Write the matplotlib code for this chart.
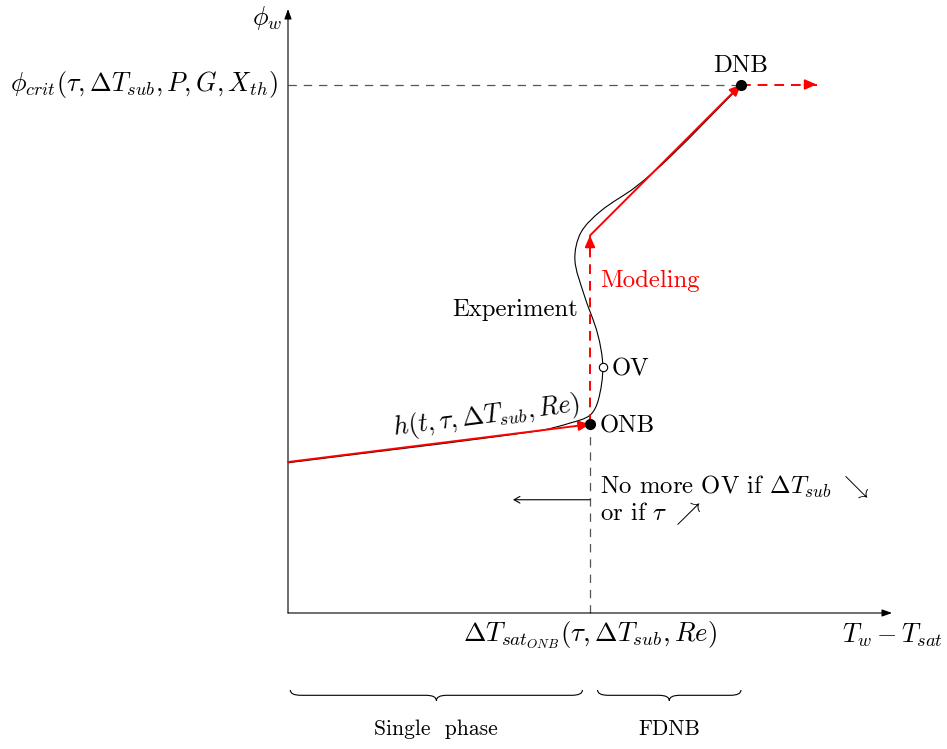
import numpy as np
import matplotlib
matplotlib.use("Agg")
import matplotlib.pyplot as plt
from matplotlib.path import Path
from matplotlib.patches import PathPatch, FancyArrowPatch

plt.rcParams["font.family"] = "serif"
plt.rcParams["font.serif"] = ["cmr10"]
plt.rcParams["mathtext.fontset"] = "cm"
plt.rcParams["axes.unicode_minus"] = False
plt.rcParams["lines.scale_dashes"] = False

# diagram units (like TikZ cm): x = T_w - T_sat, y = wall heat flux phi_w
AXIS_END = (8.0, 8.0)
ONB = (4.0, 2.5)
OV = (4.17, 3.26)
DNB = (6.0, 7.0)
PHI_CRIT = 7.0

# modelled path: single phase -> ONB, jump (dashed), FDNB -> DNB, beyond (dashed)
model_x = [0.0, 4.0, 4.0, 6.0, 7.0]
model_y = [2.0, 2.5, 5.0, 7.0, 7.0]
model_dashed = [False, True, False, True]

# experimental boiling curve (S-shape with overshoot)
exp_x = [0.0, 3.30, 3.75, 4.00, 4.11, 4.17, 4.10, 3.92, 3.80, 3.88,
         4.15, 4.60, 5.06, 6.00]
exp_y = [1.99, 2.41, 2.52, 2.62, 2.82, 3.26, 3.70, 4.22, 4.68, 5.04,
         5.33, 5.64, 6.04, 6.99]

brace_spans = [(0.03, 3.90), (4.10, 6.00)]
brace_labels = ["Single  phase", "FDNB"]

RED = "#ff0000"
GREY = "#555555"
FS = 17.8     # plain text
FM = 18.8     # math text


def smooth_path(xs, ys):
    # chord-length Catmull-Rom turned into cubic Bezier segments
    pts = np.column_stack([xs, ys])
    n = len(pts)
    tang = np.zeros_like(pts)
    for i in range(n):
        a, b = pts[max(i - 1, 0)], pts[min(i + 1, n - 1)]
        la = np.hypot(*(pts[i] - a))
        lb = np.hypot(*(b - pts[i]))
        tang[i] = (b - a) / (la + lb)
    verts, codes = [pts[0]], [Path.MOVETO]
    for i in range(n - 1):
        d = np.hypot(*(pts[i + 1] - pts[i]))
        verts += [pts[i] + tang[i] * d / 3, pts[i + 1] - tang[i + 1] * d / 3,
                  pts[i + 1]]
        codes += [Path.CURVE4] * 3
    return Path(verts, codes)


def brace_path(x0, x1, y, amp=0.07):
    xm = 0.5 * (x0 + x1)
    verts = [(x0, y + amp), (x0, y), (x0 + 2 * amp, y),
             (xm - 2 * amp, y), (xm, y), (xm, y - amp),
             (xm, y), (xm + 2 * amp, y),
             (x1 - 2 * amp, y), (x1, y), (x1, y + amp)]
    codes = [Path.MOVETO, Path.CURVE3, Path.CURVE3,
             Path.LINETO, Path.CURVE3, Path.CURVE3,
             Path.CURVE3, Path.CURVE3,
             Path.LINETO, Path.CURVE3, Path.CURVE3]
    return Path(verts, codes)


def arrow(ax, p0, p1, color, lw, dashed=False,
          style="-|>,head_length=0.45,head_width=0.2", ms=15):
    p0, p1 = np.asarray(p0, float), np.asarray(p1, float)
    if dashed:
        ax.plot([p0[0], p1[0]], [p0[1], p1[1]], color=color, lw=lw,
                dashes=(7, 5), solid_capstyle="butt", zorder=3)
        d = (p1 - p0) / np.hypot(*(p1 - p0)) * 0.12
        p0 = p1 - d
    ax.add_patch(FancyArrowPatch(p0, p1, arrowstyle=style, mutation_scale=ms,
                                 color=color, lw=lw, shrinkA=0, shrinkB=0,
                                 zorder=3))


fig = plt.figure(figsize=(9.47, 7.49), dpi=100)
ax = fig.add_axes([0, 0, 1, 1])
ax.set_xlim(-288 / 75.5, (947 - 288) / 75.5)
ax.set_ylim(-(749 - 613) / 75.5, 613 / 75.5)
ax.axis("off")

# axes
arrow(ax, (0, 0), (AXIS_END[0], 0), "black", 0.8,
      style="-|>,head_length=0.5,head_width=0.18", ms=12)
arrow(ax, (0, 0), (0, AXIS_END[1]), "black", 0.8,
      style="-|>,head_length=0.5,head_width=0.18", ms=12)

# guide lines
ax.plot([0, DNB[0]], [PHI_CRIT, PHI_CRIT], color=GREY, lw=0.9, dashes=(6, 5))
ax.plot([ONB[0], ONB[0]], [0, ONB[1]], color=GREY, lw=0.9, dashes=(6, 5))

# experiment curve
ax.add_patch(PathPatch(smooth_path(exp_x, exp_y), fill=False,
                       edgecolor="black", lw=0.8, zorder=2))

# modelled path
for i, dashed in enumerate(model_dashed):
    arrow(ax, (model_x[i], model_y[i]), (model_x[i + 1], model_y[i + 1]),
          RED, 1.4, dashed=dashed)

# key points
ax.plot(*ONB, "o", color="black", ms=7, zorder=4)
ax.plot(*DNB, "o", color="black", ms=7, zorder=4)
ax.plot(*OV, "o", mfc="white", mec="black", mew=0.8, ms=6, zorder=4)

# "no more OV" arrow
arrow(ax, (4.0, 1.5), (2.98, 1.5), "black", 0.8,
      style="->,head_length=0.35,head_width=0.2", ms=12)

# texts
ax.text(-0.08, 7.88, r"$\phi_w$", fontsize=FM, ha="right", va="center")
ax.text(-0.13, PHI_CRIT,
        r"$\phi_{crit}(\tau,\Delta T_{sub},P,G,X_{th})$",
        fontsize=FM, ha="right", va="center")
ax.text(DNB[0], DNB[1] + 0.1, "DNB", fontsize=FS, ha="center", va="bottom")
ax.text(4.13, 4.4, "Modeling", fontsize=FS, color=RED, ha="left", va="center")
ax.text(3.84, 4.01, "Experiment", fontsize=FS, ha="right", va="center")
ax.text(OV[0] + 0.12, OV[1] - 0.03, "OV", fontsize=FS, ha="left", va="center")
ax.text(ONB[0] + 0.13, ONB[1] - 0.03, "ONB", fontsize=FS, ha="left",
        va="center")
ax.text(2.64, 2.52, r"$h(t,\tau,\Delta T_{sub},Re)$", fontsize=FM,
        ha="center", va="baseline", rotation=7.4, rotation_mode="anchor")
ax.text(4.13, 1.67, r"No more OV if $\Delta T_{sub}\ \searrow$",
        fontsize=FS, ha="left", va="center")
ax.text(4.13, 1.32, r"or if $\tau\ \nearrow$", fontsize=FS,
        ha="left", va="center")
ax.text(ONB[0], -0.29, r"$\Delta T_{sat_{ONB}}(\tau,\Delta T_{sub},Re)$",
        fontsize=FM + 0.6, ha="center", va="center")
ax.text(AXIS_END[0], -0.3, r"$T_w - T_{sat}$", fontsize=FM,
        ha="center", va="center")

# braces
for (x0, x1), lab in zip(brace_spans, brace_labels):
    ax.add_patch(PathPatch(brace_path(x0, x1, -1.09), fill=False,
                           edgecolor="black", lw=0.8))
    ax.text(0.5 * (x0 + x1), -1.54, lab, fontsize=15.5, ha="center",
            va="center")

fig.savefig("out.png", dpi=100)
